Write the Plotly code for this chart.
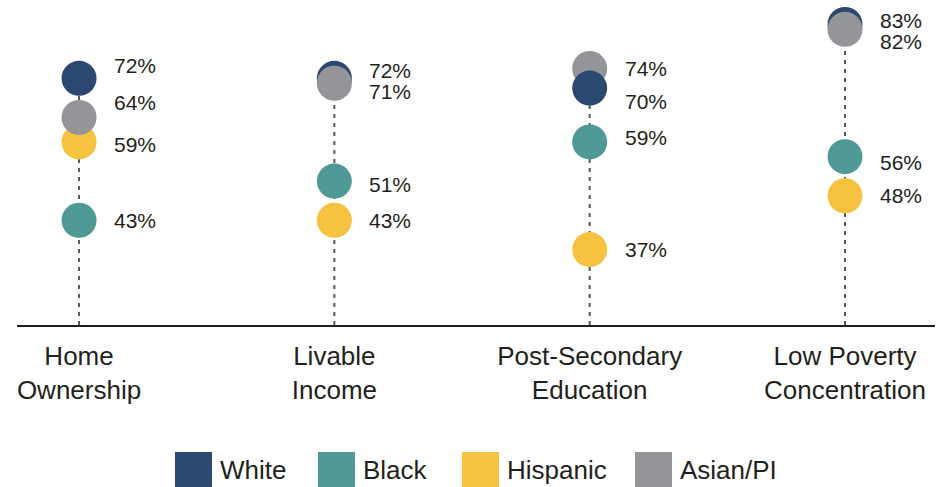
import plotly.graph_objects as go

# Share of each group reaching the benchmark, by indicator
categories = ["Home<br>Ownership", "Livable<br>Income", "Post-Secondary<br>Education", "Low Poverty<br>Concentration"]
groups = ["White", "Black", "Hispanic", "Asian/PI"]
white = [72, 72, 70, 83]
black = [43, 51, 59, 56]
hispanic = [59, 43, 37, 48]
asian_pi = [64, 71, 74, 82]

colors = {"White": "#2c4770", "Black": "#4f9a97", "Hispanic": "#f6c23f", "Asian/PI": "#939598"}
values = {"White": white, "Black": black, "Hispanic": hispanic, "Asian/PI": asian_pi}

# Stacking order of the dots in each column (last drawn sits on top)
draw_order = [
    ["White", "Black", "Hispanic", "Asian/PI"],
    ["White", "Black", "Hispanic", "Asian/PI"],
    ["Hispanic", "Black", "Asian/PI", "White"],
    ["White", "Black", "Hispanic", "Asian/PI"],
]

# Vertical nudges (px) that keep crowded value labels apart
label_nudge = {
    (0, "White"): 13, (0, "Asian/PI"): 15, (0, "Hispanic"): -3,
    (1, "White"): 8, (1, "Asian/PI"): -8, (1, "Black"): -3,
    (2, "White"): -13, (2, "Black"): 4,
    (3, "White"): 4, (3, "Asian/PI"): -12, (3, "Black"): -6,
}

FONT = "Liberation Sans, Arial, Helvetica, sans-serif"
TEXT = "#231f20"
W, H = 949, 487
ML, MR, MT, MB = 17, 14, 0, 162
Y_MIN, Y_MAX = 21.6, 88.0
X_MIN, X_MAX = -0.243, 3.3525

fig = go.Figure()

# Dashed stems from the baseline up to the highest value in each column
for i in range(len(categories)):
    top = max(values[g][i] for g in groups)
    fig.add_trace(go.Scatter(
        x=[i, i], y=[Y_MIN, top], mode="lines",
        line=dict(color="#58595b", width=2, dash="4px,5px"),
        hoverinfo="skip", showlegend=False,
    ))

# Dots, one trace per column so the stacking can differ by column
for i, order in enumerate(draw_order):
    fig.add_trace(go.Scatter(
        x=[i] * len(order),
        y=[values[g][i] for g in order],
        mode="markers",
        marker=dict(size=35, color=[colors[g] for g in order], line=dict(width=0), opacity=1),
        hovertext=order, showlegend=False, cliponaxis=False,
    ))

# Value labels to the right of each dot
for i in range(len(categories)):
    for g in groups:
        v = values[g][i]
        fig.add_annotation(
            x=i, y=v, text=f"{v}%", showarrow=False,
            xanchor="left", yanchor="middle", xshift=33,
            yshift=label_nudge.get((i, g), 0),
            font=dict(family=FONT, size=21, color=TEXT),
        )

# Legend drawn as colour swatches with labels under the chart
plot_w = W - ML - MR
plot_h = H - MT - MB


def px_x(px):
    return (px - ML) / plot_w


def px_y(py):
    return (H - MB - py) / plot_h


legend_pos = [175, 318, 462, 635]
for g, lx in zip(groups, legend_pos):
    fig.add_shape(
        type="rect", xref="paper", yref="paper",
        x0=px_x(lx), x1=px_x(lx + 37), y0=px_y(487), y1=px_y(452),
        fillcolor=colors[g], line=dict(width=0), layer="above",
    )
    fig.add_annotation(
        xref="paper", yref="paper", x=px_x(lx + 43), y=px_y(470),
        text=g, showarrow=False, xanchor="left", yanchor="middle",
        font=dict(family=FONT, size=26, color=TEXT),
    )

fig.update_layout(
    width=W, height=H,
    margin=dict(l=ML, r=MR, t=MT, b=MB),
    paper_bgcolor="white", plot_bgcolor="white",
    font=dict(family=FONT, color=TEXT),
    showlegend=False,
    xaxis=dict(
        range=[X_MIN, X_MAX], tickvals=list(range(len(categories))), ticktext=categories,
        showline=True, linecolor=TEXT, linewidth=2, showgrid=False, zeroline=False,
        ticks="", tickfont=dict(family=FONT, size=26, color=TEXT), ticklabelstandoff=7,
        fixedrange=True,
    ),
    yaxis=dict(range=[Y_MIN, Y_MAX], visible=False, fixedrange=True),
)

fig.write_html("out.html")
